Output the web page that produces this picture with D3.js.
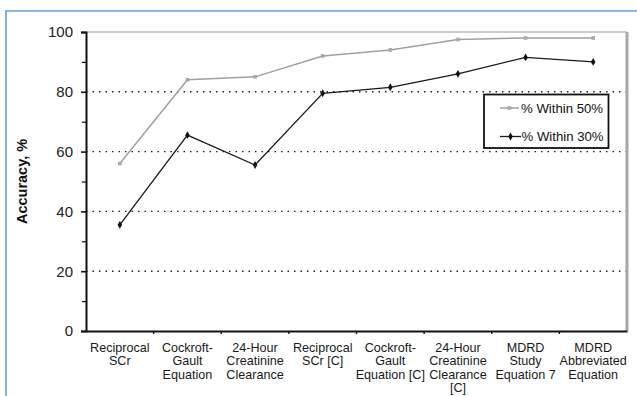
<!DOCTYPE html>
<html><head><meta charset="utf-8">
<script src="https://cdn.jsdelivr.net/npm/d3@7"></script>
<style>html,body{margin:0;padding:0;background:#fff;}svg{display:block;}</style>
</head><body>
<script>
const categories = [
  ["Reciprocal","SCr"],
  ["Cockroft-","Gault","Equation"],
  ["24-Hour","Creatinine","Clearance"],
  ["Reciprocal","SCr [C]"],
  ["Cockroft-","Gault","Equation [C]"],
  ["24-Hour","Creatinine","Clearance","[C]"],
  ["MDRD","Study","Equation 7"],
  ["MDRD","Abbreviated","Equation"]
];
const within50 = [56, 84, 85, 92, 94, 97.5, 98, 98];
const within30 = [35.5, 65.5, 55.5, 79.5, 81.5, 86, 91.5, 90];
const yTicks = [0, 20, 40, 60, 80, 100];
const yMinorTicks = [10, 30, 50, 70, 90];
const seriesNames = ["% Within 50%", "% Within 30%"];

const W = 637, H = 396;
const svg = d3.select("body").append("svg").attr("width", W).attr("height", H);

// outer blue frame
svg.append("path").attr("d", "M6,396 V11 H637").attr("fill","none")
  .attr("stroke","#6a9fd6").attr("stroke-width",1.6);

const pLeft = 86, pRight = 627, pTop = 32, pBottom = 331;
const keys = categories.map((c,i)=>"c"+i);
const x = d3.scaleBand().domain(keys).range([pLeft, pRight]);
const y = d3.scaleLinear().domain([0,100]).range([pBottom, pTop]);

// gridlines
svg.append("g").selectAll("line").data(yTicks.filter(t=>t>0 && t<100)).join("line")
  .attr("x1", pLeft).attr("x2", pRight).attr("y1", d=>y(d)).attr("y2", d=>y(d))
  .attr("stroke","#222").attr("stroke-width",1.4).attr("stroke-dasharray","1.5,5");
// top border
svg.append("line").attr("x1",pLeft).attr("x2",pRight).attr("y1",y(100)).attr("y2",y(100))
  .attr("stroke","#9a9a9a").attr("stroke-width",1.2);
// right border
svg.append("line").attr("x1",pRight).attr("x2",pRight).attr("y1",y(100)).attr("y2",y(0))
  .attr("stroke","#a8a8a8").attr("stroke-width",3);

// y axis
const yAxis = d3.axisLeft(y).tickValues(yTicks).tickSize(5).tickPadding(8).tickFormat(d3.format("d"));
const gy = svg.append("g").attr("transform",`translate(${pLeft},0)`).call(yAxis);
gy.select(".domain").attr("stroke","#111").attr("stroke-width",2);
gy.selectAll(".tick line").attr("stroke","#111").attr("stroke-width",1.6);
gy.selectAll(".tick text").attr("font-family","Arial, 'Liberation Sans', sans-serif")
  .attr("font-size",15).attr("fill","#222");
const yMinor = d3.axisLeft(y).tickValues(yMinorTicks).tickSize(4).tickFormat("");
const gym = svg.append("g").attr("transform",`translate(${pLeft},0)`).call(yMinor);
gym.select(".domain").remove();
gym.selectAll(".tick line").attr("stroke","#111").attr("stroke-width",1.2);

// x axis
svg.append("clipPath").attr("id","clipx").append("rect")
  .attr("x",0).attr("y",0).attr("width",628).attr("height",H);
const xAxis = d3.axisBottom(x).tickSize(0).tickFormat("");
const gx = svg.append("g").attr("transform",`translate(0,${pBottom})`).call(xAxis);
gx.select(".domain").attr("stroke","#111").attr("stroke-width",2.2);
gx.selectAll(".tick").remove();
// boundary ticks
svg.append("g").selectAll("line").data(keys.slice(1)).join("line")
  .attr("x1", d=>x(d)).attr("x2", d=>x(d)).attr("y1", pBottom).attr("y2", pBottom+3)
  .attr("stroke","#111").attr("stroke-width",1.4);
// category labels
const lab = svg.append("g").attr("clip-path","url(#clipx)");
categories.forEach((lines,i)=>{
  const cxl = x(keys[i]) + x.bandwidth()/2;
  const t = lab.append("text").attr("x", cxl).attr("y", 352)
    .attr("text-anchor","middle").attr("font-family","Arial, 'Liberation Sans', sans-serif")
    .attr("font-size",12.6).attr("fill","#1a1a1a");
  lines.forEach((l,j)=>t.append("tspan").attr("x", cxl)
    .attr("dy", j===0?0:13.4).text(l));
});

// y title
svg.append("text").attr("transform",`translate(27,${(pTop+pBottom)/2}) rotate(-90)`)
  .attr("text-anchor","middle").attr("font-family","Arial, 'Liberation Sans', sans-serif")
  .attr("font-weight","bold").attr("font-size",14.5).attr("fill","#111").text("Accuracy, %");

// lines
const cx = (i)=>x(keys[i]) + x.bandwidth()/2;
const line = d3.line().x((d,i)=>cx(i)).y(d=>y(d));
svg.append("path").datum(within50).attr("d",line).attr("fill","none")
  .attr("stroke","#a0a0a0").attr("stroke-width",1.5);
svg.append("g").selectAll("rect").data(within50).join("rect")
  .attr("x",(d,i)=>cx(i)-1.8).attr("y",d=>y(d)-1.8).attr("width",3.6).attr("height",3.6)
  .attr("fill","#a8a8a8");
svg.append("path").datum(within30).attr("d",line).attr("fill","none")
  .attr("stroke","#1a1a1a").attr("stroke-width",1.3);
const diamond = d3.symbol().type(d3.symbolDiamond).size(18);
svg.append("g").selectAll("path").data(within30).join("path")
  .attr("transform",(d,i)=>`translate(${cx(i)},${y(d)})`).attr("d",diamond).attr("fill","#111");

// legend
const lg = svg.append("g");
lg.append("rect").attr("x",484).attr("y",94.5).attr("width",124.5).attr("height",53.5)
  .attr("fill","#fff").attr("stroke","#111").attr("stroke-width",1.8);
const legendY = [108, 136.5];
lg.append("line").attr("x1",500).attr("x2",519).attr("y1",legendY[0]).attr("y2",legendY[0])
  .attr("stroke","#a0a0a0").attr("stroke-width",1.5);
lg.append("rect").attr("x",507.7).attr("y",legendY[0]-1.8).attr("width",3.6).attr("height",3.6).attr("fill","#a8a8a8");
lg.append("line").attr("x1",500).attr("x2",521).attr("y1",legendY[1]).attr("y2",legendY[1])
  .attr("stroke","#1a1a1a").attr("stroke-width",1.3);
lg.append("path").attr("transform",`translate(510.5,${legendY[1]})`).attr("d",diamond).attr("fill","#111");
lg.selectAll("text").data(seriesNames).join("text")
  .attr("x",(d,i)=> i===0 ? 521 : 521.5).attr("y",(d,i)=>legendY[i]+4.5)
  .attr("font-family","Arial, 'Liberation Sans', sans-serif").attr("font-size",13.2)
  .attr("fill","#111").text(d=>d);
</script>
</body></html>
